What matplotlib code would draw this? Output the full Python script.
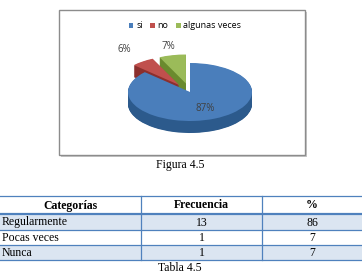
import numpy as np
import matplotlib
matplotlib.use("Agg")
import matplotlib.pyplot as plt
from matplotlib.patches import Rectangle

# ---- data ----
pie_labels = ["si", "no", "algunas veces"]
pie_values = [87, 6, 7]
pie_explode = [0.0, 0.3, 0.3]
top_colors = ["#4A7EBB", "#C0504D", "#9BBB59"]
side_colors = ["#2C5A8C", "#8B2F2D", "#6A8A2E"]
label_radius = [0.62, 1.8, 1.6]

table_header = ["Categorías", "Frecuencia", "%"]
categorias = ["Regularmente", "Pocas veces", "Nunca"]
frecuencia = [13, 1, 1]
porcentaje = [86, 7, 7]

fig_caption = "Figura 4.5"
table_caption = "Tabla 4.5"

W, H = 362, 278
fig = plt.figure(figsize=(W / 100, H / 100), dpi=100)
fig.patch.set_facecolor("white")

# overlay axes in pixel coordinates
ax0 = fig.add_axes([0, 0, 1, 1])
ax0.set_xlim(0, W)
ax0.set_ylim(H, 0)
ax0.axis("off")

# chart frame with shadow
ax0.add_patch(Rectangle((61, 12), 246, 145, facecolor="#c8c8c8", edgecolor="none", zorder=0))
ax0.add_patch(Rectangle((59, 10), 246, 145, facecolor="white", edgecolor="#8c8c8c", lw=1.0, zorder=1))

# ---- pie (pseudo 3D) ----
rx, ry, depth_px = 62, 29, 12
cx, cy = 190, 92
axl, axr, axt, axb = 118, 262, 38, 140
axp = fig.add_axes([axl / W, 1 - axb / H, (axr - axl) / W, (axb - axt) / H])
depth = depth_px / ry
for k in np.linspace(depth, 0.02, 24):
    axp.pie(pie_values, colors=side_colors, startangle=90, counterclock=False,
            explode=pie_explode, center=(0, -k), radius=1,
            wedgeprops=dict(linewidth=0))
wedges, _ = axp.pie(pie_values, colors=top_colors, startangle=90, counterclock=False,
                    explode=pie_explode, center=(0, 0), radius=1,
                    wedgeprops=dict(linewidth=0))
axp.set_aspect("auto")
axp.set_xlim((axl - cx) / rx, (axr - cx) / rx)
axp.set_ylim((cy - axb) / ry, (cy - axt) / ry)
axp.axis("off")

# percentage labels
total = sum(pie_values)
cum = 0
for v, r in zip(pie_values, label_radius):
    theta = np.deg2rad(90 - 360 * (cum + v / 2) / total)
    cum += v
    axp.text(r * np.cos(theta), r * np.sin(theta), f"{round(100 * v / total)}%",
             ha="center", va="center", fontsize=7, color="#404040",
             family="Open Sans", style="normal", clip_on=False)

# legend
handles = [Rectangle((0, 0), 1, 1, facecolor=c) for c in top_colors]
fig.legend(handles, pie_labels, loc="center", bbox_to_anchor=(185 / W, 1 - 26 / H),
           ncol=3, frameon=False, handlelength=0.55, handleheight=0.55,
           handletextpad=0.3, columnspacing=0.8,
           prop={"family": "Open Sans", "size": 6.5, "style": "normal"})

# figure caption
ax0.text(180, 165, fig_caption, ha="center", va="center", fontsize=8.5,
         family="Liberation Serif", color="black")

# ---- table ----
col_x = [0, 141, 262, W]
row_y = [196, 214, 230, 245, 260]
row_fill = ["white", "#DBE5F1", "white", "#DBE5F1"]
line_col = "#4F81BD"
for i in range(4):
    ax0.add_patch(Rectangle((0, row_y[i]), W, row_y[i + 1] - row_y[i],
                            facecolor=row_fill[i], edgecolor="none", zorder=1))
for i, y in enumerate(row_y):
    lw = 1.6 if i == 1 else 0.9
    ax0.plot([0, W], [y, y], color=line_col, lw=lw, zorder=3)
for x in col_x[1:-1]:
    ax0.plot([x, x], [row_y[0], row_y[-1]], color=line_col, lw=0.9, zorder=3)

def ymid(i):
    return (row_y[i] + row_y[i + 1]) / 2 + 0.5

for j, h in enumerate(table_header):
    ax0.text((col_x[j] + col_x[j + 1]) / 2, ymid(0), h, ha="center", va="center",
             fontsize=8.5, fontweight="bold", family="Liberation Serif", zorder=4)
for i, (c, f, p) in enumerate(zip(categorias, frecuencia, porcentaje)):
    ax0.text(2, ymid(i + 1), c, ha="left", va="center", fontsize=8.5,
             family="Liberation Serif", zorder=4)
    ax0.text((col_x[1] + col_x[2]) / 2, ymid(i + 1), str(f), ha="center", va="center",
             fontsize=8.5, family="Liberation Serif", zorder=4)
    ax0.text((col_x[2] + col_x[3]) / 2, ymid(i + 1), str(p), ha="center", va="center",
             fontsize=8.5, family="Liberation Serif", zorder=4)

ax0.text(180, 268, table_caption, ha="center", va="center", fontsize=8.5,
         family="Liberation Serif", color="black")

fig.savefig("out.png", dpi=100, facecolor="white")
